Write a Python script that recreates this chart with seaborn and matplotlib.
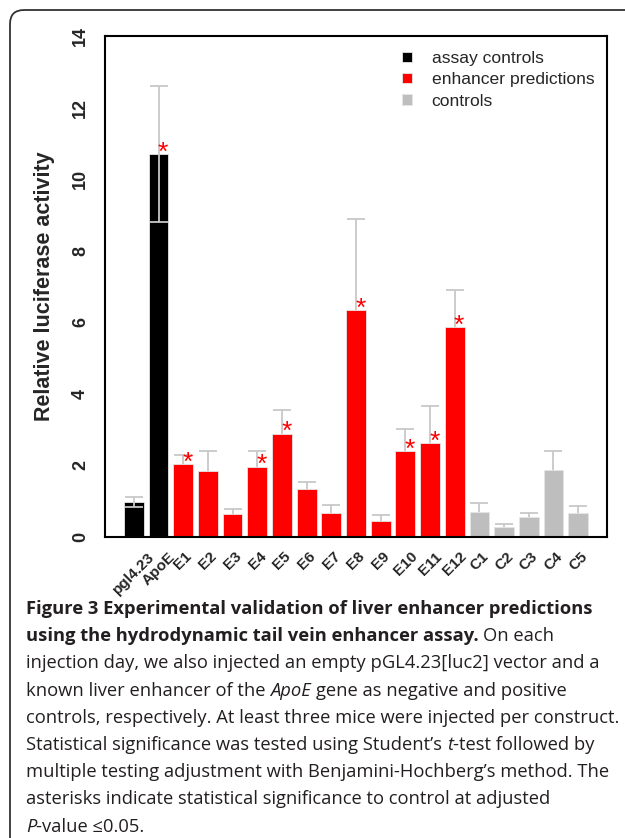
import numpy as np
import pandas as pd
import matplotlib
matplotlib.use("Agg")
import matplotlib.pyplot as plt
import matplotlib.patches as mpatches
from matplotlib.transforms import IdentityTransform
import seaborn as sns

# ---------------- data ----------------
labels = ["pgl4.23", "ApoE", "E1", "E2", "E3", "E4", "E5", "E6", "E7", "E8",
          "E9", "E10", "E11", "E12", "C1", "C2", "C3", "C4", "C5"]
groups = (["assay controls"] * 2 + ["enhancer predictions"] * 12 + ["controls"] * 5)
means = [0.98, 10.70, 2.04, 1.84, 0.63, 1.97, 2.89, 1.34, 0.66, 6.33,
         0.46, 2.41, 2.63, 5.87, 0.71, 0.27, 0.56, 1.88, 0.66]
errors = [0.15, 1.90, 0.25, 0.55, 0.16, 0.42, 0.66, 0.21, 0.23, 2.55,
          0.15, 0.62, 1.04, 1.03, 0.23, 0.09, 0.11, 0.52, 0.20]
significant = [False, True, True, False, False, True, True, False, False, True,
               False, True, True, True, False, False, False, False, False]
group_order = ["assay controls", "enhancer predictions", "controls"]
group_colors = ["#000000", "#ff0000", "#bebebe"]
y_ticks = [0, 2, 4, 6, 8, 10, 12, 14]

df = pd.DataFrame({"label": labels, "group": groups, "mean": means, "err": errors})

# ---------------- figure ----------------
W, H = 625, 838
sns.set_style("white")
plt.rcParams["font.family"] = ["Liberation Sans", "DejaVu Sans"]

fig = plt.figure(figsize=(W / 100, H / 100), dpi=100)
ax = fig.add_axes([105 / W, 1 - 537 / H, (607 - 105) / W, (537 - 36) / H])

sns.barplot(data=df, x="label", y="mean", hue="group", hue_order=group_order,
            palette=group_colors, order=labels, dodge=False, width=0.8,
            saturation=1, edgecolor="#e6e6e6", linewidth=0.6, ax=ax)

xpos = np.arange(len(labels))
is_assay = df["group"].values == "assay controls"
m = np.array(means)
e = np.array(errors)
# error bars: behind bars for enhancer/controls, on top for assay controls
ax.errorbar(xpos[~is_assay], m[~is_assay], yerr=e[~is_assay], fmt="none",
            ecolor="#c8c8c8", elinewidth=1.3, capsize=6.5, capthick=1.3, zorder=0.5)
ax.errorbar(xpos[is_assay], m[is_assay], yerr=e[is_assay], fmt="none",
            ecolor="#c8c8c8", elinewidth=1.3, capsize=6.5, capthick=1.3, zorder=3)

for i, (val, sig) in enumerate(zip(means, significant)):
    if sig:
        ax.text(i + 0.18, val - 0.3, "*", color="#ff0000", fontsize=19,
                ha="center", va="bottom", zorder=4)

ax.set_xlim(-1.17, len(labels) - 1 + 1.17)
ax.set_ylim(0, 14)
ax.set_yticks(y_ticks)
ax.set_yticklabels([str(t) for t in y_ticks], rotation=90, va="center",
                   fontsize=13, weight="bold")
ax.set_xticks(xpos)
ax.set_xticklabels(labels, rotation=45, ha="center", va="top", fontsize=11,
                   weight="bold")
ax.tick_params(axis="both", direction="out", length=6.5, width=1.1, color="black")
ax.tick_params(axis="y", pad=5)
ax.tick_params(axis="x", pad=2.5)
ax.set_xlabel("")
ax.set_ylabel("")
for s in ax.spines.values():
    s.set_visible(True)
    s.set_linewidth(1.5)
    s.set_color("black")

fig.text(45 / W, 1 - 286 / H, "Relative luciferase activity", rotation=90,
         ha="center", va="center", fontsize=15.5, weight="bold")

leg = ax.legend(loc="upper left", bbox_to_anchor=(402 / W, 1 - 51 / H),
                bbox_transform=fig.transFigure, frameon=False, fontsize=12.6,
                handlelength=0.55, handleheight=0.55, handletextpad=1.15,
                labelspacing=0.36, borderpad=0, borderaxespad=0)

# ---------------- caption ----------------
cap_family = ["Open Sans", "DejaVu Sans"]
cap_color = "#231f20"
renderer = fig.canvas.get_renderer()

def text_width(s, size, weight="normal", style="normal"):
    t = fig.text(0, 0, s, fontsize=size, weight=weight, style=style, family=cap_family)
    w = t.get_window_extent(renderer).width
    t.remove()
    return w

cap_lines = [
    [("Figure 3 Experimental validation of liver enhancer predictions", "bold", "normal")],
    [("using the hydrodynamic tail vein enhancer assay.", "bold", "normal"),
     (" On each", "normal", "normal")],
    [("injection day, we also injected an empty pGL4.23[luc2] vector and a", "normal", "normal")],
    [("known liver enhancer of the ", "normal", "normal"), ("ApoE", "normal", "italic"),
     (" gene as negative and positive", "normal", "normal")],
    [("controls, respectively. At least three mice were injected per construct.", "normal", "normal")],
    [("Statistical significance was tested using Student\u2019s ", "normal", "normal"),
     ("t", "normal", "italic"), ("-test followed by", "normal", "normal")],
    [("multiple testing adjustment with Benjamini-Hochberg\u2019s method. The", "normal", "normal")],
    [("asterisks indicate statistical significance to control at adjusted", "normal", "normal")],
    [("P", "normal", "italic"), ("-value \u22640.05.", "normal", "normal")],
]

base = 10.0
w_ref = 0.5 * (text_width(cap_lines[2][0][0], base) + text_width(cap_lines[4][0][0], base))
cap_size = base * 585 / w_ref

def space_w(weight, style):
    return (text_width("a a", cap_size, weight, style) - text_width("aa", cap_size, weight, style))

x0 = 26
for li, runs in enumerate(cap_lines):
    y_base = 614 + 27.2 * li
    x = x0
    for s, weight, style in runs:
        sw = space_w(weight, style)
        lead = len(s) - len(s.lstrip(" "))
        trail = len(s) - len(s.rstrip(" "))
        core = s.strip(" ")
        x += lead * sw
        t = fig.text(x / W, 1 - y_base / H, core, fontsize=cap_size, weight=weight,
                     style=style, family=cap_family, color=cap_color,
                     ha="left", va="baseline")
        x += t.get_window_extent(renderer).width + trail * sw

# ---------------- border ----------------
border = mpatches.FancyBboxPatch((10, -30), 700, H - 10 + 30,
                                 boxstyle="round,pad=0,rounding_size=14",
                                 transform=IdentityTransform(), fill=False,
                                 edgecolor="#333333", linewidth=1.3)
fig.patches.append(border)

fig.savefig("out.png", dpi=100)
